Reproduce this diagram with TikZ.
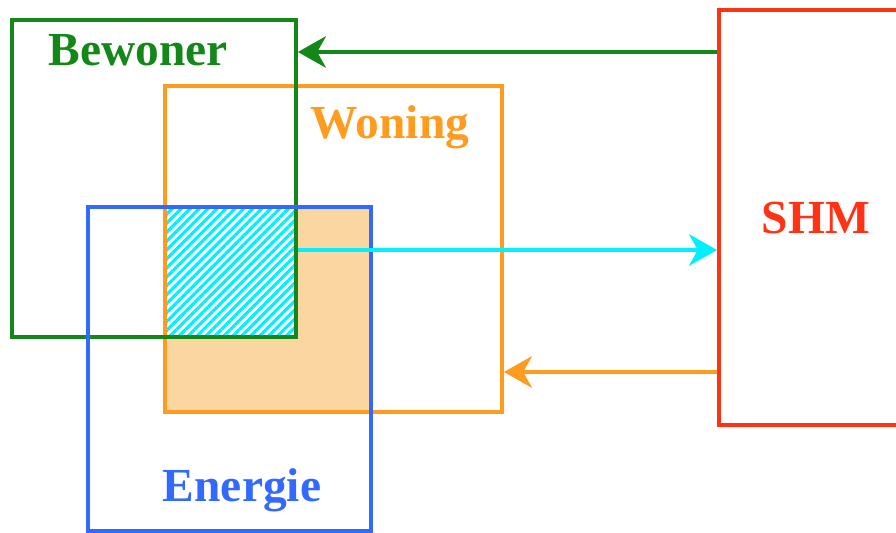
\documentclass[tikz,border=0pt]{standalone}
\usepackage{fontspec}
\setmainfont{Liberation Serif}
\usetikzlibrary{arrows.meta,patterns.meta}
\definecolor{bgreen}{RGB}{20,135,25}
\definecolor{worange}{RGB}{255,155,30}
\definecolor{eblue}{RGB}{50,105,255}
\definecolor{shmred}{RGB}{255,50,20}
\definecolor{lorange}{RGB}{250,215,160}
\definecolor{fcyan}{RGB}{0,240,255}
\begin{document}
\begin{tikzpicture}[x=0.02cm,y=-0.02cm,
    box/.style={draw=#1, line width=2.2pt, minimum width=0pt, inner sep=0pt},
    lbl/.style={text=#1, font=\fontsize{27}{30}\selectfont\bfseries},
    flow/.style={draw=#1, line width=1.8pt, -{Stealth[length=16pt,width=18pt,inset=5pt]}}]
\useasboundingbox (0,0) rectangle (896,533);
% fills
\fill[lorange] (165,207) rectangle (371,412);
\fill[white] (165,207) rectangle (296,337);
\fill[pattern={Lines[angle=45,distance=3.6pt,line width=1.8pt]}, pattern color=fcyan] (165,207) rectangle (296,337);
% boxes
\node[box=worange, minimum width=6.74cm, minimum height=6.52cm] (woning) at (333.5,249) {};
\node[box=bgreen, minimum width=5.68cm, minimum height=6.34cm] (bewoner) at (154,178.5) {};
\node[box=eblue, minimum width=5.66cm, minimum height=6.48cm] (energie) at (229.5,369) {};
\node[box=shmred, minimum width=3.66cm, minimum height=8.3cm] (shm) at (810.5,217.5) {};
% labels
\node[lbl=bgreen] (tbewoner) at (138,50) {Bewoner};
\node[lbl=worange] (twoning) at (390,127) {Woning};
\node[lbl=eblue] (tenergie) at (242,490) {Energie};
\node[lbl=shmred] (tshm) at (816,218) {SHM};
% arrows
\coordinate (ga) at (0,52);
\coordinate (ca) at (0,250);
\coordinate (oa) at (0,372);
\draw[flow=bgreen] (shm.west |- ga) -- (bewoner.east |- ga);
\draw[flow=fcyan] (bewoner.east |- ca) -- (shm.west |- ca);
\draw[flow=worange] (shm.west |- oa) -- (woning.east |- oa);
\end{tikzpicture}
\end{document}
